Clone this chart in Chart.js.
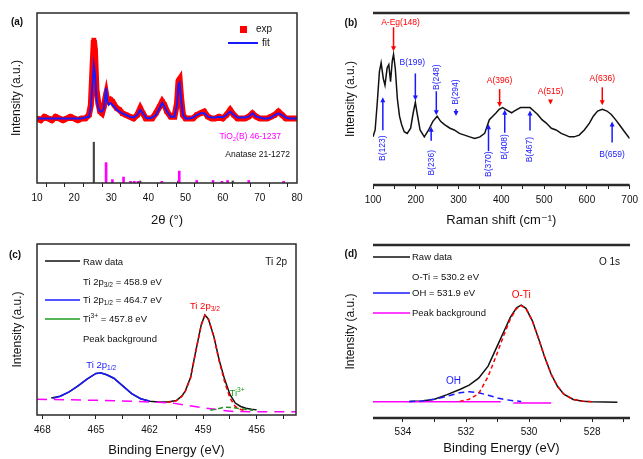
<!DOCTYPE html>
<html><head><meta charset="utf-8">
<script src="https://cdn.jsdelivr.net/npm/chart.js@4.4.0/dist/chart.umd.min.js"></script>
<style>
html,body{margin:0;padding:0;background:#fff;}
body{width:643px;height:459px;position:relative;overflow:hidden;}
canvas{position:absolute;display:block;}
</style></head><body>
<canvas id="ca" style="left:0px;top:0px" width="320" height="230"></canvas>
<canvas id="cb" style="left:320px;top:0px" width="323" height="230"></canvas>
<canvas id="cc" style="left:0px;top:230px" width="320" height="229"></canvas>
<canvas id="cd" style="left:320px;top:230px" width="323" height="229"></canvas>
<script>
const FONT = "'Liberation Sans', Arial, 'DejaVu Sans', sans-serif";
const RED = '#ff0000', BLUE = '#1a1aff', GREEN = '#1f9a1f', MAGENTA = '#ff00ff', INK = '#111';

// ---------- (a) XRD ----------
const xrdAngle = [10,11,12,13,14,15,16,17,18,19,20,21,22,23,24,24.5,25,25.3,25.6,26,26.5,27,27.5,28,28.4,28.6,28.9,29.3,29.8,30.3,30.8,31.5,32.2,33,34,35,36,37,37.8,38.5,39.3,40,41,42,43,43.7,44.3,45,46,47,47.7,48.1,48.4,48.8,49.3,50,51,52,53,54,55,56,57,58,59,60,61,62,63,64,65,66,67,68,69,70,71,72,73,74,75,76,77,78,79,80];
const xrdExp = [38,37,39,38,37,39,38,37,38,39,38,37,38,38,40,46,70,84,78,55,47,42,41,45,50,52,48,48,49,48,46,44,43,41,40,39,38,40,44,41,38,38,38,41,45,48,46,42,39,39,47,60,61,50,40,38,38,38,40,41,42,39,38,38,39,38,40,43,40,38,38,38,39,41,39,38,38,38,39,40,42,40,38,38,38,38];
const xrdFit = [38,38,38,38,38,38,38,38,38,38,38,38,38,38.5,39,44,60,69,64,50,44,42,42,44,52,56,48,46,47,46,45,43,42,41,40,39,38.5,40,43,41,38.5,38,38.5,40,44,47,45,42,39,39,46,58,59,49,40,38,38,38.5,40,41,41,39,38.5,38.5,39,38.5,40,42,40,38.5,38.5,38.5,39,41,39,38.5,38,38,38.5,40,41,40,38.5,38,38,38];
const tiO2BPos = [28.6,30.3,33.3,35.2,36.2,37.2,43.6,48.3,53.0,57.4,59.8,61.3,67.0,76.4];
const tiO2BInt = [12,2,3.5,1,1,1,1,7,1.5,1.5,1,1.5,1.5,1];
const anatasePos = [25.3,37.8,48.0,62.7];
const anataseInt = [24,1.2,1.2,1.2];
const xrdTicks = [10,15,20,25,30,35,40,45,50,55,60,65,70,75,80];
const xrdTickLabels = [10,20,30,40,50,60,70,80];

// ---------- (b) Raman ----------
const ramanShift = [100,105,110,115,119,124,128,133,137,141,145,148,152,157,162,167,173,180,188,194,199,203,210,220,230,240,250,258,268,280,290,302,314,326,338,350,361,372,380,388,395,403,410,417,424,430,437,445,457,467,476,485,495,505,517,528,540,550,559,570,582,594,606,615,625,636,647,657,667,676,688,700];
const ramanInt = [28,32,48,66,71,62,58,68,70,60,72,76,68,50,40,35,31,30,33,42,48,42,32,28,32,37,40,37,35,33,32,30,29,28,27,28,30,38,40,42,44,45,44,43,42,43,44,45,45,45,43,41,38,36,33,32,30,29,28,28,29,32,36,40,43,44,43,41,38,35,31,27];
const ramanAPos = [148,396,515,636];
const ramanALbl = ['A-Eg(148)','A(396)','A(515)','A(636)'];
const ramanBPos = [123,199,236,248,294,370,408,467,659];
const ramanBLbl = ['B(123)','B(199)','B(236)','B(248)','B(294)','B(370)','B(408)','B(467)','B(659)'];
const ramanTicks = [100,150,200,250,300,350,400,450,500,550,600,650,700];
const ramanTickLabels = [100,200,300,400,500,600,700];

// ---------- (c) Ti 2p ----------
const tiRawE = [467.5,467,466.5,466,465.5,465,464.7,464.4,464,463.5,463,462.5,462,461.5,461,460.5,460.2,460,459.7,459.4,459.1,458.9,458.7,458.4,458.1,457.8,457.5,457.2,456.9,456.6,456.3,456];
const tiRaw = [10,11,13.5,17,21,24.3,24.5,23.5,21.5,17,12.5,9.5,8,7.6,7.6,8.5,11,14,22,38,53,58.5,56,46,32,21,12,7,5,4,3.4,3];
const ti12E = [467.4,467,466.5,466,465.5,465,464.7,464.4,464,463.5,463,462.5,462];
const ti12 = [9.8,11,13.5,17,21,24.3,24.5,23.5,21.5,17,12.5,9.5,8.2];
const ti32E = [461,460.5,460.2,460,459.7,459.4,459.1,458.9,458.7,458.4,458.1,457.8,457.5,457.2,456.9,456.6];
const ti32 = [7.4,8.3,10.8,13.8,21.8,37.8,52.8,58.3,55.8,45.8,31.5,19.5,10,5,3.2,2.5];
const ti3E = [458.6,458.2,457.8,457.4,457,456.6,456.2];
const ti3 = [2.8,3.6,4.6,4.4,3.8,3.2,2.8];
const tiBgE = [468.3,464,461.5,460.6,460,459,458,457.3,453.8];
const tiBg = [9.2,8.4,7.4,6.8,5.8,4.2,2.8,2,1.9];
const tiTicks = [468,466.5,465,463.5,462,460.5,459,457.5,456,454.5];
const tiTickLabels = [468,465,462,459,456];

// ---------- (d) O 1s ----------
const oRawE = [533.8,533.4,533,532.6,532.2,531.9,531.6,531.3,531.0,530.8,530.6,530.4,530.25,530.1,529.9,529.7,529.5,529.3,529.1,528.9,528.6,528.3,528,527.6,527.2];
const oRaw = [9.5,9.8,10.8,13.5,16.5,19,23,30,42,50,58,63.7,65.2,63.4,56.3,45.9,34.9,25.3,18.3,13.8,10.7,9.7,9.4,9.2,9.1];
const oTiE = [532.2,531.9,531.6,531.3,531.0,530.8,530.6,530.4,530.25,530.1,529.9,529.7,529.5,529.3,529.1,528.9,528.6,528.3,528];
const oTi = [9.6,10.8,14,24,38,48,57,63.3,65,63.3,56.3,45.9,34.9,25.3,18.3,13.8,10.7,9.7,9.4];
const oHE = [533.8,533.4,533,532.6,532.2,531.9,531.6,531.3,531.0,530.8,530.6,530.4,530.25];
const oH = [9.5,9.8,10.8,12.6,14.6,15.2,14.6,13.2,11.6,10.8,10.2,9.8,9.6];
const oBgE = [534.95,530.9,530.7,530.5,529.3];
const oBg = [9.4,9.4,null,8.7,8.7];
const oTicks = [534,533,532,531,530,529,528,527];
const oTickLabels = [534,532,530,528];

// ---------- helpers ----------
const xy = (xs, ys) => xs.map((x, i) => ({x: x, y: ys[i]}));
function curveAt(xs, ys, x) {
  for (let i = 0; i < xs.length - 1; i++) {
    if ((x >= xs[i] && x <= xs[i+1]) || (x <= xs[i] && x >= xs[i+1])) {
      const t = (x - xs[i]) / (xs[i+1] - xs[i]);
      return ys[i] + t * (ys[i+1] - ys[i]);
    }
  }
  return ys[ys.length - 1];
}
function rich(ctx, segs, x, y, size, color, align, bold) {
  ctx.save(); ctx.fillStyle = color; ctx.textBaseline = 'middle'; ctx.textAlign = 'left';
  let total = 0;
  const parts = segs.map(s => {
    const t = s[0], m = s[1];
    const fs = m ? size * 0.7 : size;
    ctx.font = (bold ? 'bold ' : '') + fs + 'px ' + FONT;
    const w = ctx.measureText(t).width; total += w;
    return {t, m, fs, w};
  });
  let cx = align === 'center' ? x - total / 2 : align === 'right' ? x - total : x;
  parts.forEach(p => {
    ctx.font = (bold ? 'bold ' : '') + p.fs + 'px ' + FONT;
    const dy = p.m === 'sub' ? size * 0.3 : p.m === 'sup' ? -size * 0.35 : 0;
    ctx.fillText(p.t, cx, y + dy); cx += p.w;
  });
  ctx.restore();
}
function vtext(ctx, t, x, y, size, color) {
  ctx.save(); ctx.translate(x, y); ctx.rotate(-Math.PI / 2);
  ctx.fillStyle = color; ctx.font = size + 'px ' + FONT; ctx.textAlign = 'center'; ctx.textBaseline = 'middle';
  ctx.fillText(t, 0, 0); ctx.restore();
}
function arrow(ctx, x, y1, y2, color, lw) {
  ctx.save(); ctx.strokeStyle = color; ctx.fillStyle = color; ctx.lineWidth = lw || 1.5;
  const d = y2 > y1 ? 1 : -1;
  ctx.beginPath(); ctx.moveTo(x, y1); ctx.lineTo(x, y2 - d * 3); ctx.stroke();
  ctx.beginPath(); ctx.moveTo(x, y2); ctx.lineTo(x - 2.5, y2 - d * 5); ctx.lineTo(x + 2.5, y2 - d * 5); ctx.closePath(); ctx.fill();
  ctx.restore();
}
function hline(ctx, x1, x2, y, color, lw, dash) {
  ctx.save(); ctx.strokeStyle = color; ctx.lineWidth = lw; if (dash) ctx.setLineDash(dash);
  ctx.beginPath(); ctx.moveTo(x1, y); ctx.lineTo(x2, y); ctx.stroke(); ctx.restore();
}
function frame(ctx, a, full) {
  ctx.save(); ctx.strokeStyle = '#2a2a2a';
  if (full) { ctx.lineWidth = 1.5; ctx.strokeRect(a.left, a.top, a.right - a.left, a.bottom - a.top); }
  else { ctx.lineWidth = 2.5;
    ctx.beginPath(); ctx.moveTo(a.left, a.top); ctx.lineTo(a.right, a.top);
    ctx.moveTo(a.left, a.bottom); ctx.lineTo(a.right, a.bottom); ctx.stroke(); }
  ctx.restore();
}

function build(id, w, h, area, cfg) {
  return new Chart(document.getElementById(id), {
    type: 'line',
    data: {datasets: cfg.datasets},
    options: {
      responsive: false, animation: false, devicePixelRatio: 1,
      layout: {padding: {left: 0, top: area.t, right: w - area.r, bottom: 0}},
      elements: {point: {radius: 0}, line: {tension: 0}},
      plugins: {legend: {display: false}, tooltip: {enabled: false}},
      scales: {
        x: {type: 'linear', min: cfg.xmin, max: cfg.xmax, reverse: !!cfg.reverse, offset: false,
          afterBuildTicks: s => { s.ticks = cfg.ticks.map(v => ({value: v})); },
          afterFit: s => { s.height = h - area.b; },
          ticks: {autoSkip: false, maxRotation: 0, minRotation: 0, padding: cfg.tickPad, color: INK,
            font: {family: FONT, size: 10},
            callback: v => cfg.majors.some(m => Math.abs(m - v) < 1e-6) ? String(v) : ''},
          grid: {display: true, drawOnChartArea: false, drawTicks: true, tickLength: 4, tickColor: '#222', color: '#222', lineWidth: 1},
          border: {display: false},
          title: {display: true, text: cfg.xTitle, color: INK, font: {family: FONT, size: 13}, padding: {top: 0, bottom: cfg.xTitlePad}}
        },
        y: {type: 'linear', min: 0, max: 100,
          afterFit: s => { s.width = area.l; },
          ticks: {display: false}, grid: {display: false}, border: {display: false},
          title: {display: true, text: 'Intensity (a.u.)', color: INK, font: {family: FONT, size: 12}, padding: {top: cfg.yTitlePad, bottom: 0}}
        }
      }
    },
    plugins: [{id: 'deco', afterDraw: c => cfg.decorate(c, c.ctx)}]
  });
}

// ---------- (a) ----------
build('ca', 320, 230, {l: 37, t: 13, r: 297, b: 183}, {
  xmin: 10, xmax: 80, ticks: xrdTicks, majors: xrdTickLabels, tickPad: 5,
  xTitle: '2\u03b8 (\u00b0)', xTitlePad: 2, yTitlePad: 9,
  datasets: [
    {type: 'line', data: xy(xrdAngle, xrdFit), borderColor: BLUE, borderWidth: 2, pointRadius: 0, order: 0},
    {type: 'line', data: xy(xrdAngle, xrdExp), borderColor: RED, borderWidth: 6, pointRadius: 3.4, pointStyle: 'rect', pointBackgroundColor: RED, pointBorderWidth: 0, order: 1},
    {type: 'bar', data: xy(tiO2BPos, tiO2BInt), backgroundColor: MAGENTA, barThickness: 2, grouped: false, order: 2},
    {type: 'bar', data: xy(anatasePos, anataseInt), backgroundColor: '#444', barThickness: 1.5, grouped: false, order: 3}
  ],
  decorate: (c, ctx) => {
    frame(ctx, c.chartArea, true);
    rich(ctx, [['(a)']], 17, 22, 10, INK, 'center', true);
    ctx.save(); ctx.fillStyle = RED; ctx.fillRect(240, 26, 7, 7); ctx.restore();
    rich(ctx, [['exp']], 256, 29, 10, INK, 'left');
    hline(ctx, 228, 258, 43, BLUE, 2);
    rich(ctx, [['fit']], 262, 43, 10, INK, 'left');
    rich(ctx, [['TiO'], ['2', 'sub'], ['(B) 46-1237']], 281, 137, 8.5, MAGENTA, 'right');
    rich(ctx, [['Anatase 21-1272']], 290, 155, 8.5, INK, 'right');
  }
});

// ---------- (b) ----------
const redAnn = [{lab: -32, a1: -27, a2: -3, dx: 7}, {lab: -28, a1: -20, a2: -2, dx: 0}, {lab: -36, a1: -27, a2: -23, dx: 0}, {lab: -31, a1: -22, a2: -4, dx: 0}];
const blueAnn = [
  {a1: 55, a2: 22, lab: 73, vert: true},
  {a1: -29, a2: -2, lab: -40, vert: false, dx: -3},
  {a1: 16, a2: 2, lab: 38, vert: true},
  {a1: -26, a2: -2, lab: -40, vert: true},
  {a1: -22, a2: -15, lab: -39, vert: true},
  {a1: 29, a2: 2, lab: 42, vert: true},
  {a1: 24, a2: 1, lab: 38, vert: true},
  {a1: 23, a2: 3, lab: 42, vert: true},
  {a1: 27, a2: 6, lab: 39, vert: false, dx: 0}
];
build('cb', 323, 230, {l: 53, t: 13, r: 310, b: 185}, {
  xmin: 100, xmax: 700, ticks: ramanTicks, majors: ramanTickLabels, tickPad: 5,
  xTitle: 'Raman shift (cm\u207b\u00b9)', xTitlePad: 2, yTitlePad: 23,
  datasets: [
    {type: 'line', data: xy(ramanShift, ramanInt), borderColor: '#111', borderWidth: 1.5, pointRadius: 0}
  ],
  decorate: (c, ctx) => {
    frame(ctx, c.chartArea, false);
    rich(ctx, [['(b)']], 31, 23, 10, INK, 'center', true);
    const xs = c.scales.x, ys = c.scales.y;
    ramanAPos.forEach((p, i) => {
      const px = xs.getPixelForValue(p), cy = ys.getPixelForValue(curveAt(ramanShift, ramanInt, p));
      const a = redAnn[i];
      arrow(ctx, px, cy + a.a1, cy + a.a2, RED, 1.5);
      rich(ctx, [[ramanALbl[i]]], px + a.dx, cy + a.lab, 8.5, RED, 'center');
    });
    ramanBPos.forEach((p, i) => {
      const px = xs.getPixelForValue(p), cy = ys.getPixelForValue(curveAt(ramanShift, ramanInt, p));
      const a = blueAnn[i];
      arrow(ctx, px, cy + a.a1, cy + a.a2, BLUE, 1.5);
      if (a.vert) vtext(ctx, ramanBLbl[i], px, cy + a.lab, 8.5, BLUE);
      else rich(ctx, [[ramanBLbl[i]]], px + (a.dx || 0), cy + a.lab, 8.5, BLUE, 'center');
    });
  }
});

// ---------- (c) ----------
build('cc', 320, 229, {l: 37, t: 14, r: 296, b: 185}, {
  xmin: 453.8, xmax: 468.3, reverse: true, ticks: tiTicks, majors: tiTickLabels, tickPad: 5,
  xTitle: 'Binding Energy (eV)', xTitlePad: 0.5, yTitlePad: 10,
  datasets: [
    {data: xy(ti32E, ti32), borderColor: RED, borderWidth: 1.5, borderDash: [4, 3], order: 0},
    {data: xy(ti3E, ti3), borderColor: GREEN, borderWidth: 1.5, borderDash: [5, 3], order: 1},
    {data: xy(tiBgE, tiBg), borderColor: MAGENTA, borderWidth: 1.5, borderDash: [10, 7], order: 2},
    {data: xy(ti12E, ti12), borderColor: BLUE, borderWidth: 1.5, order: 3},
    {data: xy(tiRawE, tiRaw), borderColor: '#111', borderWidth: 1.5, order: 4}
  ],
  decorate: (c, ctx) => {
    frame(ctx, c.chartArea, true);
    rich(ctx, [['(c)']], 15, 25, 10, INK, 'center', true);
    rich(ctx, [['Ti 2p']], 287, 32, 10, INK, 'right');
    hline(ctx, 45, 80, 31, '#111', 1.5);
    rich(ctx, [['Raw data']], 83, 32, 9.5, INK, 'left');
    rich(ctx, [['Ti 2p'], ['3/2', 'sub'], [' = 458.9 eV']], 83, 52, 9.5, INK, 'left');
    hline(ctx, 45, 80, 70, BLUE, 1.5);
    rich(ctx, [['Ti 2p'], ['1/2', 'sub'], [' = 464.7 eV']], 83, 70, 9.5, INK, 'left');
    hline(ctx, 45, 80, 89, GREEN, 1.5);
    rich(ctx, [['Ti'], ['3+', 'sup'], [' = 457.8 eV']], 83, 89, 9.5, INK, 'left');
    rich(ctx, [['Peak background']], 83, 109, 9.5, INK, 'left');
    const xs = c.scales.x, ys = c.scales.y;
    rich(ctx, [['Ti 2p'], ['3/2', 'sub']], xs.getPixelForValue(458.9), ys.getPixelForValue(Math.max(...ti32)) - 9, 9.5, RED, 'center');
    rich(ctx, [['Ti 2p'], ['1/2', 'sub']], xs.getPixelForValue(464.7), ys.getPixelForValue(Math.max(...ti12)) - 8, 9.5, BLUE, 'center');
    rich(ctx, [['Ti'], ['3+', 'sup']], xs.getPixelForValue(457.1), ys.getPixelForValue(Math.max(...ti3)) - 14, 9.5, GREEN, 'center');
  }
});

// ---------- (d) ----------
build('cd', 323, 229, {l: 53, t: 15, r: 310, b: 188}, {
  xmin: 526.8, xmax: 534.95, reverse: true, ticks: oTicks, majors: oTickLabels, tickPad: 4,
  xTitle: 'Binding Energy (eV)', xTitlePad: 3, yTitlePad: 23,
  datasets: [
    {data: xy(oTiE, oTi), borderColor: RED, borderWidth: 1.5, borderDash: [4, 3], order: 0},
    {data: xy(oHE, oH), borderColor: BLUE, borderWidth: 1.5, borderDash: [6, 4], order: 1},
    {data: xy(oBgE, oBg), borderColor: MAGENTA, borderWidth: 1.5, spanGaps: false, order: 2},
    {data: xy(oRawE, oRaw), borderColor: '#111', borderWidth: 1.5, order: 3}
  ],
  decorate: (c, ctx) => {
    frame(ctx, c.chartArea, false);
    rich(ctx, [['(d)']], 31, 24, 10, INK, 'center', true);
    rich(ctx, [['O 1s']], 300, 32, 10, INK, 'right');
    hline(ctx, 53, 90, 27, '#111', 1.5);
    rich(ctx, [['Raw data']], 92, 27, 9.5, INK, 'left');
    rich(ctx, [['O-Ti = 530.2 eV']], 92, 47, 9.5, INK, 'left');
    hline(ctx, 53, 90, 63, BLUE, 1.5);
    rich(ctx, [['OH = 531.9 eV']], 92, 63, 9.5, INK, 'left');
    hline(ctx, 53, 90, 83, MAGENTA, 1.5);
    rich(ctx, [['Peak background']], 92, 83, 9.5, INK, 'left');
    const xs = c.scales.x, ys = c.scales.y;
    rich(ctx, [['O-Ti']], xs.getPixelForValue(530.25), ys.getPixelForValue(Math.max(...oTi)) - 10, 10, RED, 'center');
    rich(ctx, [['OH']], xs.getPixelForValue(532.4), ys.getPixelForValue(Math.max(...oH)) - 10, 10, BLUE, 'center');
  }
});
</script>
</body></html>
